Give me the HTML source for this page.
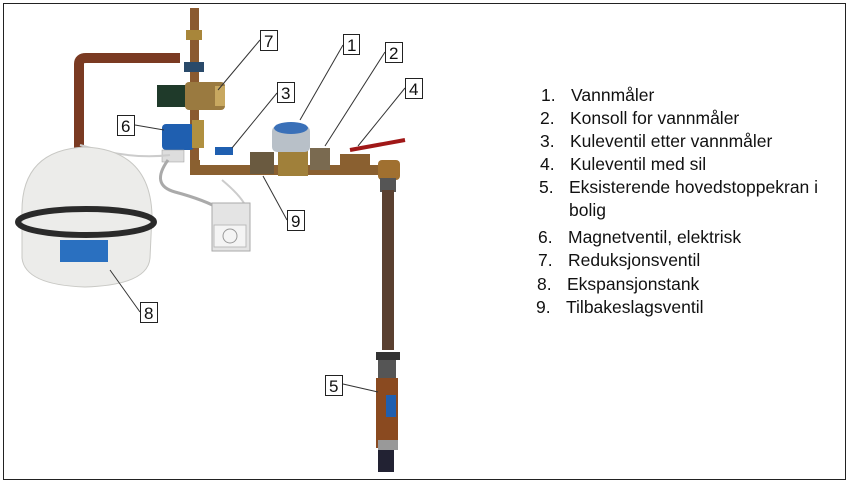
<!DOCTYPE html>
<html><head><meta charset="utf-8"><style>
html,body{margin:0;padding:0;background:#fff;}
svg{display:block;}
text{font-family:"Liberation Sans",sans-serif;}
</style></head><body>
<svg width="851" height="485" viewBox="0 0 851 485" xmlns="http://www.w3.org/2000/svg">
<rect x="0" y="0" width="851" height="485" fill="#fff"/>
<rect x="3.5" y="3.5" width="842" height="476" fill="none" stroke="#222" stroke-width="1"/>
<path d="M79 150 V64 Q79 58 86 58 H180" fill="none" stroke="#7a3a22" stroke-width="10"/>
<rect x="190" y="8" width="9" height="160" fill="#8a5a30"/>
<rect x="186" y="30" width="16" height="10" fill="#a8863a"/>
<rect x="184" y="62" width="20" height="10" fill="#2a4a6a"/>
<rect x="157" y="85" width="32" height="22" fill="#1f3a2a"/>
<rect x="185" y="82" width="40" height="28" rx="4" fill="#9a7a40"/>
<rect x="215" y="86" width="10" height="20" fill="#c8a860"/>
<rect x="162" y="124" width="32" height="26" rx="4" fill="#1f5fb0"/>
<rect x="192" y="120" width="12" height="28" fill="#b09040"/>
<rect x="162" y="150" width="22" height="12" fill="#ddd" stroke="#999" stroke-width="0.5"/>
<path d="M195 160 V170 H390" fill="none" stroke="#8a6030" stroke-width="10"/>
<rect x="215" y="147" width="18" height="8" fill="#1f5fb0"/>
<rect x="250" y="152" width="24" height="22" fill="#6a5a40"/>
<rect x="278" y="150" width="30" height="26" fill="#a0803a"/>
<rect x="272" y="126" width="38" height="26" rx="5" fill="#b8c0c8"/>
<ellipse cx="291" cy="128" rx="17" ry="6" fill="#3a70b8"/>
<rect x="310" y="148" width="20" height="22" fill="#7a6a50"/>
<rect x="340" y="154" width="30" height="20" fill="#8a6030"/>
<line x1="350" y1="150" x2="405" y2="140" stroke="#a01818" stroke-width="4"/>
<rect x="378" y="160" width="22" height="20" rx="4" fill="#a07030"/>
<rect x="380" y="178" width="16" height="14" fill="#555"/>
<rect x="382" y="190" width="12" height="160" fill="#5a4030"/>
<rect x="376" y="352" width="24" height="8" fill="#333"/>
<rect x="378" y="360" width="18" height="18" fill="#555"/>
<rect x="376" y="378" width="22" height="70" fill="#8a4a20"/>
<rect x="386" y="395" width="10" height="22" fill="#1f5fb0"/>
<rect x="378" y="440" width="20" height="10" fill="#999"/>
<rect x="378" y="450" width="16" height="22" fill="#223"/>
<path d="M168 160 Q150 185 175 192 Q205 200 222 210" fill="none" stroke="#aaa" stroke-width="3"/>
<path d="M80 145 Q130 160 170 155" fill="none" stroke="#ccc" stroke-width="2"/>
<path d="M222 180 Q240 195 245 205" fill="none" stroke="#ccc" stroke-width="2"/>
<rect x="212" y="203" width="38" height="48" fill="#e4e4e4" stroke="#aaa" stroke-width="1"/>
<rect x="214" y="225" width="32" height="22" fill="#f4f4f4" stroke="#bbb"/>
<circle cx="230" cy="236" r="7" fill="none" stroke="#999"/>
<path d="M22 215 Q20 150 85 147 Q150 150 152 215 L150 258 Q148 285 85 287 Q25 285 22 258 Z" fill="#ececea" stroke="#c8c8c4" stroke-width="1"/>
<ellipse cx="86" cy="222" rx="68" ry="13" fill="none" stroke="#2a2a2a" stroke-width="6"/>
<rect x="60" y="240" width="48" height="22" fill="#2a70c0"/>
<g stroke="#333" stroke-width="1" fill="none">
<line x1="260" y1="40" x2="218" y2="90"/>
<line x1="343" y1="45" x2="300" y2="120"/>
<line x1="385" y1="52" x2="325" y2="146"/>
<line x1="277" y1="93" x2="232" y2="148"/>
<line x1="405" y1="88" x2="358" y2="146"/>
<line x1="135" y1="125" x2="164" y2="130"/>
<line x1="287" y1="220" x2="263" y2="176"/>
<line x1="140" y1="312" x2="110" y2="270"/>
<line x1="343" y1="384" x2="378" y2="392"/>
</g>
<g font-size="17" fill="#111">
<rect x="260.5" y="30.5" width="17" height="20" fill="#fff" stroke="#222"/><text x="264" y="47">7</text>
<rect x="343.5" y="34.5" width="16" height="20" fill="#fff" stroke="#222"/><text x="347" y="51">1</text>
<rect x="385.5" y="42.5" width="17" height="20" fill="#fff" stroke="#222"/><text x="389" y="59">2</text>
<rect x="277.5" y="82.5" width="17" height="20" fill="#fff" stroke="#222"/><text x="281" y="99">3</text>
<rect x="405.5" y="78.5" width="17" height="20" fill="#fff" stroke="#222"/><text x="409" y="95">4</text>
<rect x="117.5" y="115.5" width="17" height="20" fill="#fff" stroke="#222"/><text x="121" y="132">6</text>
<rect x="287.5" y="210.5" width="17" height="20" fill="#fff" stroke="#222"/><text x="291" y="227">9</text>
<rect x="140.5" y="302.5" width="17" height="20" fill="#fff" stroke="#222"/><text x="144" y="319">8</text>
<rect x="325.5" y="375.5" width="17" height="20" fill="#fff" stroke="#222"/><text x="329" y="392">5</text>
</g>
<g font-size="17.5" fill="#111">
<text x="541" y="101">1.</text><text x="571" y="101">Vannmåler</text>
<text x="540" y="124">2.</text><text x="570" y="124">Konsoll for vannmåler</text>
<text x="540" y="147">3.</text><text x="570" y="147">Kuleventil etter vannmåler</text>
<text x="540" y="170">4.</text><text x="570" y="170">Kuleventil med sil</text>
<text x="539" y="193">5.</text><text x="569" y="193">Eksisterende hovedstoppekran i</text>
<text x="569" y="216">bolig</text>
<text x="538" y="243">6.</text><text x="568" y="243">Magnetventil, elektrisk</text>
<text x="538" y="266">7.</text><text x="568" y="266">Reduksjonsventil</text>
<text x="537" y="290">8.</text><text x="567" y="290">Ekspansjonstank</text>
<text x="536" y="313">9.</text><text x="566" y="313">Tilbakeslagsventil</text>
</g>
</svg>
</body></html>
